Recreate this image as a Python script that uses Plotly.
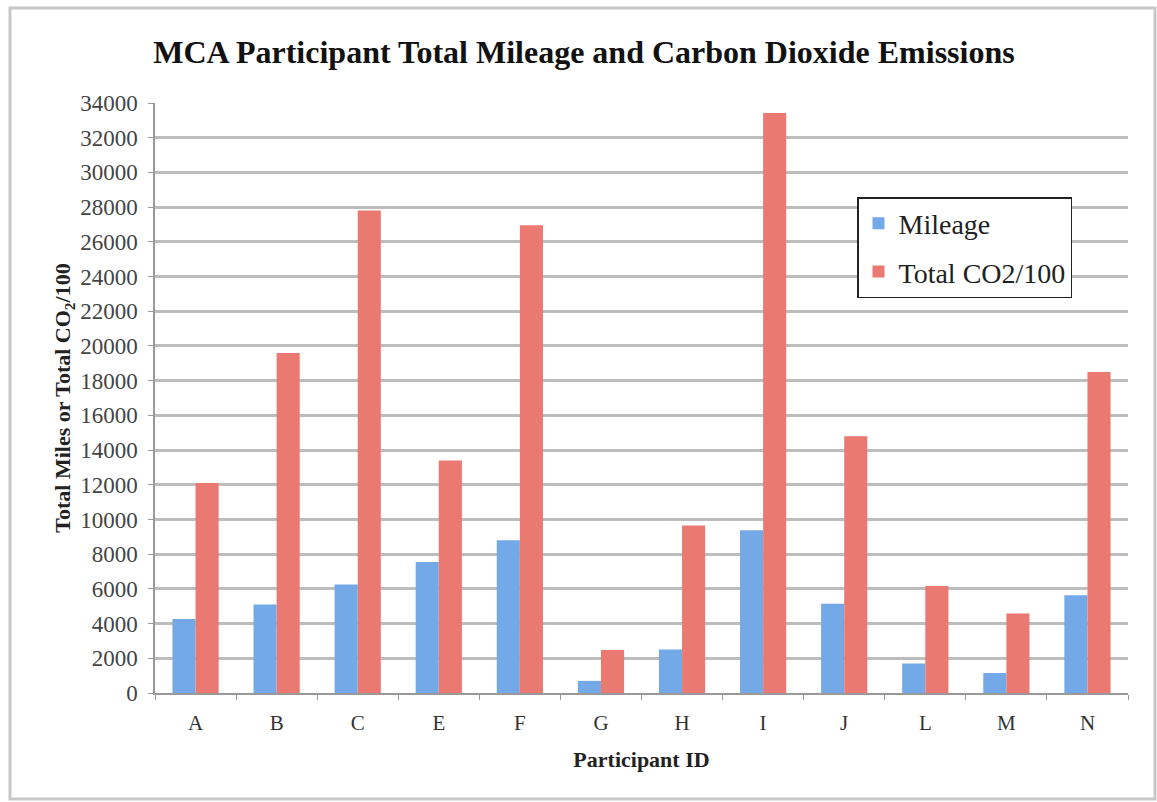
import plotly.graph_objects as go

participants = ["A", "B", "C", "E", "F", "G", "H", "I", "J", "L", "M", "N"]
mileage = [4260, 5100, 6250, 7550, 8800, 700, 2500, 9380, 5150, 1700, 1150, 5630]
co2_per_100 = [12100, 19600, 27800, 13400, 26950, 2480, 9650, 33420, 14800, 6170, 4580, 18500]
y_ticks = list(range(0, 34001, 2000))
y_tick_labels = [str(v) for v in y_ticks]

serif = "Liberation Serif, Times New Roman, serif"

fig = go.Figure()
fig.add_trace(go.Bar(x=participants, y=mileage, name="Mileage", legendgroup="m",
                     marker=dict(color="#74A9E8", line=dict(width=0))))
fig.add_trace(go.Bar(x=participants, y=co2_per_100, name="Total CO2/100", legendgroup="c",
                     marker=dict(color="#EA7A71", line=dict(width=0))))

L, R, T, B = 155, 29, 103, 109
W, H = 1157, 802
pw, ph = W - L - R, H - T - B

fig.update_layout(
    width=W, height=H,
    margin=dict(l=L, r=R, t=T, b=B),
    paper_bgcolor="white", plot_bgcolor="white",
    barmode="group", bargap=0.43, bargroupgap=0,
    title=dict(text="<b>MCA Participant Total Mileage and Carbon Dioxide Emissions</b>",
               x=584 / W, xanchor="center", y=1 - 52 / H, yanchor="middle",
               font=dict(family=serif, size=32, color="#111111")),
    font=dict(family=serif, size=20, color="#333333"),
    legend=dict(x=(857 - L) / pw, y=(693 - 197) / ph, xanchor="left", yanchor="top",
                bgcolor="white", bordercolor="#222222", borderwidth=1.5,
                font=dict(family=serif, size=28, color="#222222"),
                itemwidth=30, tracegroupgap=9, traceorder="grouped"),
    xaxis=dict(showline=True, linecolor="#999999", linewidth=1.5,
               ticks="outside", tickson="boundaries", ticklen=5, tickcolor="#999999",
               ticklabelstandoff=10,
               tickfont=dict(family=serif, size=21, color="#333333"),
               title=dict(text="<b>Participant ID</b>", standoff=18,
                          font=dict(family=serif, size=22, color="#222222"))),
    yaxis=dict(range=[0, 34000], tickvals=y_ticks, ticktext=y_tick_labels, showgrid=True,
               gridcolor="#BDBDBD", gridwidth=2.5,
               showline=True, linecolor="#999999", linewidth=1.5,
               ticks="outside", ticklen=5, tickcolor="#999999",
               ticklabelstandoff=6,
               tickfont=dict(family=serif, size=23, color="#444444"),
               zeroline=False,
               title=dict(text="<b>Total Miles or Total CO<sub>2</sub>/100</b>", standoff=3,
                          font=dict(family=serif, size=22, color="#222222"))),
    shapes=[dict(type="rect", xref="paper", yref="paper",
                 x0=(10 - L) / pw, x1=(1155 - L) / pw,
                 y0=(H - B - 799) / ph, y1=(H - B - 8) / ph,
                 line=dict(color="#C8C8C8", width=3), layer="below")],
)

fig.write_html("out.html", config={"displayModeBar": False},
               post_script="document.body.style.margin='0';document.body.style.overflow='hidden';")
